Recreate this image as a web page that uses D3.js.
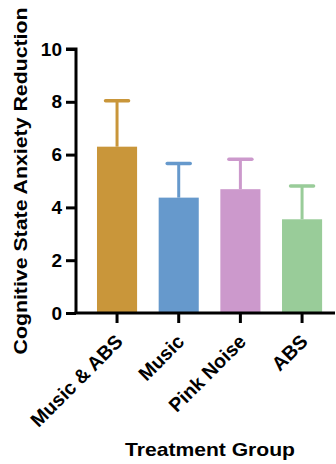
<!DOCTYPE html>
<html>
<head>
<meta charset="utf-8">
<script src="https://cdn.jsdelivr.net/npm/d3@7"></script>
<style>
  html, body { margin: 0; padding: 0; background: #fff; }
  svg { display: block; }
  text { font-family: "Liberation Sans", Arial, Helvetica, sans-serif; font-weight: bold; fill: #000; }
</style>
</head>
<body>
<svg id="chart" width="336" height="464"></svg>
<script>
const categories = ["Music & ABS", "Music", "Pink Noise", "ABS"];
const means = [6.3, 4.37, 4.69, 3.55];
const errors = [1.74, 1.29, 1.13, 1.26];
const colors = ["#C9963A", "#6699CC", "#CC99CC", "#99CC99"];
const yTicks = [0, 2, 4, 6, 8, 10];
const yTitle = "Cognitive State Anxiety Reduction";
const xTitle = "Treatment Group";

const svg = d3.select("#chart");
const axisX = 76, x0 = 86.2, x1 = 332.9, yTop = 49, yBot = 313;

const y = d3.scaleLinear().domain([0, 10]).range([yBot, yTop]);
const x = d3.scaleBand().domain(categories).range([x0, x1]).paddingInner(0.35).paddingOuter(0.175);

// bars
svg.append("g").selectAll("rect").data(categories).join("rect")
  .attr("x", d => x(d))
  .attr("width", x.bandwidth())
  .attr("y", (d, i) => y(means[i]))
  .attr("height", (d, i) => y(0) - y(means[i]))
  .attr("fill", (d, i) => colors[i]);

// error bars
const eb = svg.append("g");
categories.forEach((c, i) => {
  const cx = x(c) + x.bandwidth() / 2;
  eb.append("line").attr("x1", cx).attr("x2", cx)
    .attr("y1", y(means[i])).attr("y2", y(means[i] + errors[i]))
    .attr("stroke", colors[i]).attr("stroke-width", 3);
  eb.append("line").attr("x1", cx - 11.5).attr("x2", cx + 11.5)
    .attr("y1", y(means[i] + errors[i])).attr("y2", y(means[i] + errors[i]))
    .attr("stroke", colors[i]).attr("stroke-width", 3.5).attr("stroke-linecap", "round");
});

// y axis
const ya = svg.append("g").attr("transform", `translate(${axisX},0)`)
  .call(d3.axisLeft(y).tickValues(yTicks).tickSize(10).tickPadding(4).tickFormat(d3.format("d")));
ya.select(".domain").attr("stroke-width", 3).attr("d", `M-10,${yTop}H0V${yBot}`);
ya.selectAll(".tick line").attr("stroke-width", 3);
ya.selectAll(".tick text").style("font-size", "19px").style("font-weight", "bold")
  .style("font-family", '"Liberation Sans", Arial, sans-serif').attr("fill", "#000");

// x axis
const xa = svg.append("g").attr("transform", `translate(0,${yBot})`)
  .call(d3.axisBottom(x).tickSize(10).tickSizeOuter(0));
xa.select(".domain").remove();
xa.append("line").attr("x1", axisX - 1.5).attr("x2", 335).attr("y1", 0).attr("y2", 0)
  .attr("stroke", "#000").attr("stroke-width", 3);
xa.selectAll(".tick line").attr("stroke-width", 3);
xa.selectAll(".tick text")
  .style("font-size", "19.5px").style("font-weight", "bold")
  .style("font-family", '"Liberation Sans", Arial, sans-serif').attr("fill", "#000")
  .attr("text-anchor", "end")
  .attr("transform", "translate(2,25) rotate(-45)")
  .attr("x", 0).attr("y", 0).attr("dy", "0.35em");

// titles
svg.append("text").attr("transform", `translate(27,181) rotate(-90)`)
  .attr("text-anchor", "middle").style("font-size", "18px")
  .attr("textLength", 347).attr("lengthAdjust", "spacingAndGlyphs")
  .text(yTitle);
svg.append("text").attr("x", 210).attr("y", 456)
  .attr("text-anchor", "middle").style("font-size", "18.5px")
  .attr("textLength", 170).attr("lengthAdjust", "spacingAndGlyphs")
  .text(xTitle);
</script>
</body>
</html>
